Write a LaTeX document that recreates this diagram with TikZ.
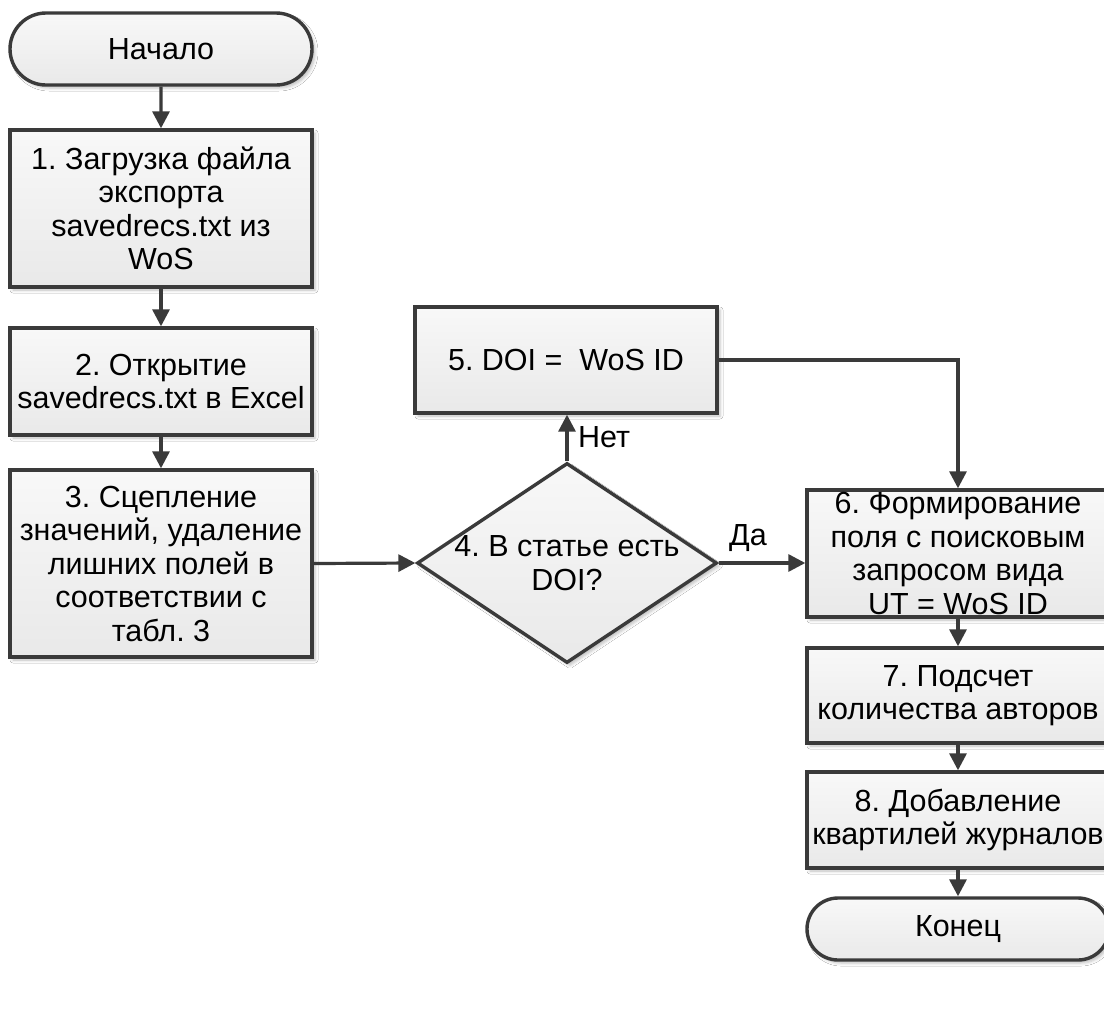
\documentclass[tikz,border=0pt]{standalone}
\usepackage{fontspec}
\setmainfont{Liberation Sans}
\frenchspacing
\usetikzlibrary{shapes.geometric,shapes.misc,arrows.meta,shadows.blur}
\definecolor{edge}{HTML}{3A3A3A}
\definecolor{fillA}{HTML}{F8F8F8}
\definecolor{fillB}{HTML}{E9E9E9}
\begin{document}
\begin{tikzpicture}[x=1pt,y=-1pt,
  txt/.style={font=\frenchspacing\fontsize{30.5}{33.5}\selectfont, align=center, text=black},
  base/.style={txt, draw=edge, line width=3.4pt, top color=fillA, bottom color=fillB,
     blur shadow={shadow xshift=3pt, shadow yshift=-3pt, shadow blur radius=3pt, shadow opacity=25}},
  procbox/.style={base, rectangle, minimum width=302pt, inner sep=0pt},
  term/.style={base, rounded rectangle, minimum width=302pt, inner sep=0pt},
  decision/.style={base, diamond, minimum width=300pt, minimum height=200pt, inner sep=0pt},
  conn/.style={draw=edge, line width=3.2pt, -{Triangle[length=17pt,width=17pt]}},
  lbl/.style={font=\fontsize{30.5}{33.5}\selectfont, text=black, inner sep=0pt}
]
\useasboundingbox (0,0) rectangle (1104,1010);
\fill[white] (0,0) rectangle (1104,1010);

\node[term, minimum height=72pt] (start) at (161,49) {Начало};
\node[procbox, minimum height=157pt] (b1) at (161,208.5) {1. Загрузка файла\\экспорта\\savedrecs.txt из\\WoS};
\node[procbox, minimum height=107pt] (b2) at (161,381.5) {2. Открытие\\savedrecs.txt в Excel};
\node[procbox, minimum height=187pt] (b3) at (161,563.5) {3. Сцепление\\значений, удаление\\лишних полей в\\соответствии с\\табл. 3};
\node[decision] (d4) at (567,563) {};
\node[txt] (d4t) at (567,563) {4. В статье есть\\DOI?};
\node[procbox, minimum height=106pt] (b5) at (566,360) {5. DOI = \ WoS ID};
\node[procbox, minimum height=127pt] (b6) at (958,553.5) {6. Формирование\\поля с поисковым\\запросом вида\\UT = WoS ID};
\node[procbox, minimum height=95pt] (b7) at (958,695.5) {7. Подсчет\\количества авторов};
\node[procbox, minimum height=96pt] (b8) at (958,820) {8. Добавление\\квартилей журналов};
\node[term, minimum height=62pt] (end) at (958,929) {Конец};

\draw[conn] (start) -- (b1);
\draw[conn] (b1) -- (b2);
\draw[conn] (b2) -- (b3);
\draw[conn] (b3.east) -- (d4.west);
\draw[conn] (d4.north) -- (d4.north |- b5.south);
\draw[conn] (d4.east) -- (d4.east -| b6.west);
\draw[conn] (b5.east) -| (b6.north);
\draw[conn] (b6) -- (b7);
\draw[conn] (b7) -- (b8);
\draw[conn] (b8) -- (end);

\node[lbl, anchor=west] (no) at (578,437) {Нет};
\node[lbl] (yes) at (748,538) {Да};
\end{tikzpicture}
\end{document}
